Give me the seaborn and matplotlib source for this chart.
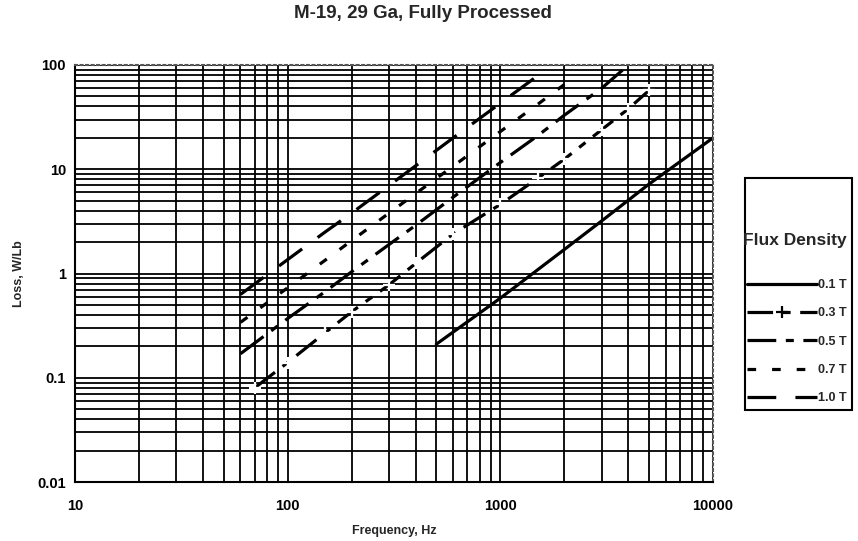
import numpy as np
import pandas as pd
import seaborn as sns
import matplotlib
matplotlib.use("Agg")
import matplotlib.pyplot as plt
from matplotlib.lines import Line2D
from matplotlib.patches import Rectangle
from matplotlib.ticker import LogLocator, NullFormatter, FixedLocator, FixedFormatter

# data (frequency in Hz, loss in W/lb)
freq_01 = [500, 1000, 2000, 3000, 5000, 10000]
loss_01 = [0.21, 0.58, 1.7, 3.2, 7.2, 20]
freq_03 = [70, 100, 150, 200, 300, 400, 600, 1000, 1500, 2000, 3000, 4000, 5000]
loss_03 = [0.08, 0.14, 0.27, 0.43, 0.78, 1.25, 2.4, 4.6, 8.2, 12.5, 24, 38, 57]
freq_05 = [60, 100, 150, 200, 300, 400, 600, 1000, 1500, 2000, 3000, 4000]
loss_05 = [0.17, 0.37, 0.67, 1.04, 1.9, 2.9, 5.4, 11.6, 21, 33, 60, 100]
freq_07 = [60, 100, 150, 200, 300, 400, 600, 1000, 1500, 2000]
loss_07 = [0.34, 0.73, 1.34, 2.07, 3.8, 5.85, 10.7, 23, 42, 65]
freq_10 = [60, 100, 150, 200, 300, 400, 600, 1000, 1500]
loss_10 = [0.63, 1.36, 2.5, 3.8, 7.0, 10.8, 20, 43, 79]

labels = ["0.1 T", "0.3 T", "0.5 T", "0.7 T", "1.0 T"]
x_ticks = [10, 100, 1000, 10000]
y_ticks = [0.01, 0.1, 1, 10, 100]
y_ticklabels = ["0.01", "0.1", "1", "10", "100"]

sns.set_style("white")
plt.rcParams["font.family"] = ["Liberation Sans", "DejaVu Sans"]
plt.rcParams["font.weight"] = "bold"

fig = plt.figure(figsize=(8.58, 5.41), dpi=100)
ax = fig.add_axes([75 / 858, 1 - 482 / 541, (713 - 75) / 858, (482 - 65) / 541])

lw = 2.3
styles = [
    dict(linestyle="-", linewidth=lw),
    dict(linestyle=(0, (8, 3, 2.5, 3)), linewidth=lw, marker="+", markersize=8, markeredgewidth=1.6),
    dict(linestyle=(0, (9, 3, 2.5, 3)), linewidth=lw),
    dict(linestyle=(0, (2.7, 5)), linewidth=lw),
    dict(linestyle=(0, (9, 6)), linewidth=lw),
]
series = [(freq_01, loss_01), (freq_03, loss_03), (freq_05, loss_05),
          (freq_07, loss_07), (freq_10, loss_10)]

for (fx, fy), st in zip(series, styles):
    sns.lineplot(x=fx, y=fy, ax=ax, color="black", legend=False, **st)

ax.set_xscale("log")
ax.set_yscale("log")
ax.set_xlim(10, 10000)
ax.set_ylim(0.01, 100)

ax.xaxis.set_major_locator(FixedLocator(x_ticks))
ax.xaxis.set_major_formatter(FixedFormatter([str(v) for v in x_ticks]))
ax.yaxis.set_major_locator(FixedLocator(y_ticks))
ax.yaxis.set_major_formatter(FixedFormatter(y_ticklabels))
ax.xaxis.set_minor_locator(LogLocator(base=10, subs=np.arange(2, 10)))
ax.yaxis.set_minor_locator(LogLocator(base=10, subs=np.arange(2, 10)))
ax.xaxis.set_minor_formatter(NullFormatter())
ax.yaxis.set_minor_formatter(NullFormatter())

ax.grid(True, which="both", color="black", linewidth=1.3)
ax.set_axisbelow(True)
ax.tick_params(axis="both", which="major", labelsize=10.5, length=5, width=1,
               direction="out", colors="black")
ax.tick_params(axis="x", which="major", pad=7)
ax.tick_params(axis="y", which="major", pad=1.5)
ax.tick_params(axis="both", which="minor", length=0)
for lab in ax.get_xticklabels() + ax.get_yticklabels():
    lab.set_fontweight("bold")

for s in ["left", "bottom"]:
    ax.spines[s].set_color("black")
    ax.spines[s].set_linewidth(1.5)
for s in ["top", "right"]:
    ax.spines[s].set_color("#555555")
    ax.spines[s].set_linewidth(1.5)
    ax.spines[s].set_linestyle(":")

ax.set_xlabel("Frequency, Hz", fontsize=9, fontweight="bold")
ax.set_ylabel("Loss, W/Lb", fontsize=9, fontweight="bold")
ax.xaxis.set_label_coords(0.5, -(525 - 482) / (482 - 65))
ax.yaxis.set_label_coords(-(75 - 25) / (713 - 75), 0.5)
fig.text(423 / 858, 1 - 13 / 541, "M-19, 29 Ga, Fully Processed", ha="center",
         va="center", fontsize=13.5, fontweight="bold")

# legend box
fig.patches.append(Rectangle((745 / 858, 1 - 410 / 541), 107 / 858, 232 / 541,
                             transform=fig.transFigure, fill=False,
                             edgecolor="black", linewidth=1.5))
fig.text(743 / 858, 1 - 240 / 541, "Flux Density", ha="left", va="center",
         fontsize=12.5, fontweight="bold")
handles = [Line2D([], [], color="black", **st) for st in styles]
fig.legend(handles, labels, loc="upper left",
           bbox_to_anchor=(741 / 858, 1 - 273 / 541), frameon=False,
           prop=dict(size=9, weight="bold"), handlelength=5.6,
           handletextpad=0.05, labelspacing=1.3, borderpad=0)

fig.savefig("out.png", dpi=100)
